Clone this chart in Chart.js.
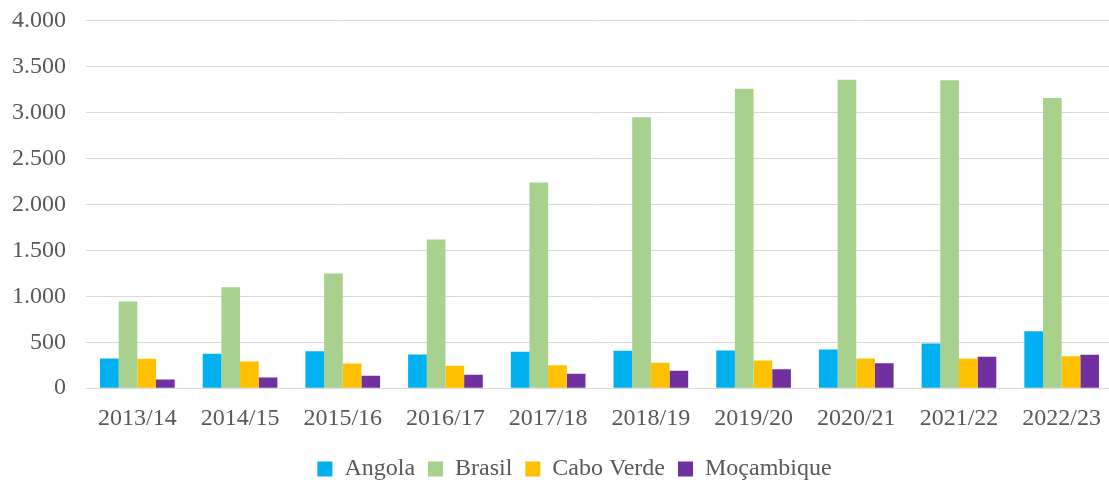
<!DOCTYPE html>
<html>
<head>
<meta charset="utf-8">
<script src="https://cdn.jsdelivr.net/npm/chart.js@4"></script>
<style>
  html, body { margin: 0; padding: 0; background: #fff; overflow: hidden; }
  #wrap { width: 1117px; height: 505px; margin-top: -14px; }
</style>
</head>
<body>
<div id="wrap"><canvas id="grafico"></canvas></div>
<script>
// Anos letivos
const anos = ['2013/14', '2014/15', '2015/16', '2016/17', '2017/18', '2018/19', '2019/20', '2020/21', '2021/22', '2022/23'];

// Valores por país
const angola = [323, 374, 402, 366, 396, 406, 410, 421, 486, 620];
const brasil = [942, 1098, 1247, 1616, 2236, 2946, 3258, 3355, 3348, 3157];
const caboVerde = [320, 290, 268, 243, 250, 276, 301, 323, 323, 348];
const mocambique = [95, 116, 135, 146, 156, 189, 207, 272, 341, 363];

// Rótulos do eixo Y
const rotulosY = ['0', '500', '1.000', '1.500', '2.000', '2.500', '3.000', '3.500', '4.000'];

const corTexto = '#595959';
const corGrelha = '#d9d9d9';
const fonte = '"Liberation Serif", "Times New Roman", serif';

// Desloca a legenda para ficar onde está no original
const moverLegenda = {
    id: 'moverLegenda',
    afterLayout(chart) {
        chart.legend.left += 20;
        chart.legend.right += 20;
    }
};

const ctx = document.getElementById('grafico').getContext('2d');
new Chart(ctx, {
    type: 'bar',
    data: {
        labels: anos,
        datasets: [
            { label: 'Angola', data: angola, backgroundColor: '#00b0f0' },
            { label: 'Brasil', data: brasil, backgroundColor: '#a9d18e' },
            { label: 'Cabo Verde', data: caboVerde, backgroundColor: '#ffc000' },
            { label: 'Moçambique', data: mocambique, backgroundColor: '#7030a0' }
        ]
    },
    options: {
        responsive: true,
        maintainAspectRatio: false,
        animation: false,
        layout: { padding: { top: 0, left: -8, right: 0, bottom: 0 } },
        datasets: {
            bar: { categoryPercentage: 0.727, barPercentage: 1, borderWidth: 0 }
        },
        scales: {
            x: {
                grid: { display: false, drawTicks: false },
                border: { color: corGrelha, width: 1 },
                afterFit: (escala) => { escala.height -= 5; },
                ticks: {
                    color: corTexto,
                    padding: 16,
                    maxRotation: 0,
                    font: { family: fonte, size: 24 }
                }
            },
            y: {
                min: 0,
                max: 4000,
                grid: { color: corGrelha, lineWidth: 1, drawTicks: false },
                border: { display: false },
                ticks: {
                    stepSize: 500,
                    color: corTexto,
                    padding: 20,
                    font: { family: fonte, size: 24 },
                    callback: (valor, i) => rotulosY[i]
                }
            }
        },
        plugins: {
            legend: {
                position: 'bottom',
                labels: {
                    boxWidth: 15,
                    boxHeight: 15,
                    padding: 13,
                    color: corTexto,
                    font: { family: fonte, size: 24 }
                }
            },
            tooltip: { enabled: false }
        }
    },
    plugins: [moverLegenda]
});
</script>
</body>
</html>
